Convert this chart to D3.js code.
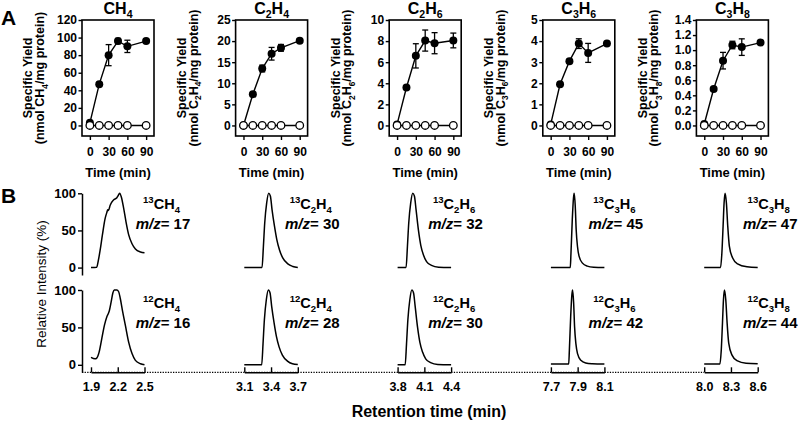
<!DOCTYPE html>
<html><head><meta charset="utf-8">
<script src="https://cdn.jsdelivr.net/npm/d3@7"></script>
<style>
body{margin:0;background:#fff}
text{font-family:"Liberation Sans",Arial,Helvetica,sans-serif;fill:#000}
</style>
</head><body>
<svg id="chart" width="800" height="423"></svg>
<script>
// ---------------- DATA ----------------
// Panel A: specific yield time courses
const timePoints = [0, 15, 30, 45, 60, 90];
const timeTicks = [0, 30, 60, 90];
const gasFormulas = [
  [["C",""],["H",""],["4","sub"]],
  [["C",""],["2","sub"],["H",""],["4","sub"]],
  [["C",""],["2","sub"],["H",""],["6","sub"]],
  [["C",""],["3","sub"],["H",""],["6","sub"]],
  [["C",""],["3","sub"],["H",""],["8","sub"]]
];
const yieldCH4  = [3, 47, 80, 96, 90, 96];
const errCH4    = [0, 1.5, 12, 3, 7, 2];
const yieldC2H4 = [0, 7.4, 13.5, 17.0, 18.4, 20.1];
const errC2H4   = [0, 0.3, 0.8, 1.5, 0.8, 0.4];
const yieldC2H6 = [0.1, 3.6, 6.6, 8.05, 7.8, 8.06];
const errC2H6   = [0, 0.15, 1.15, 1.0, 1.0, 0.7];
const yieldC3H6 = [0.05, 1.95, 3.05, 3.88, 3.44, 3.88];
const errC3H6   = [0, 0.05, 0.08, 0.23, 0.45, 0.05];
const yieldC3H8 = [0.02, 0.484, 0.86, 1.068, 1.04, 1.10];
const errC3H8   = [0, 0.02, 0.11, 0.05, 0.11, 0.02];
const controlYield = [0, 0, 0, 0, 0, 0];
const yMaxima = [120, 25, 10, 5, 1.4];
const yTickSteps = [20, 5, 2, 1, 0.2];

// Panel B: GC-MS chromatograms
const rtDomains = [[1.9,2.5],[3.1,3.7],[3.8,4.4],[7.7,8.1],[8.0,8.6]];
const rtTicks = [[1.9,2.2,2.5],[3.1,3.4,3.7],[3.8,4.1,4.4],[7.7,7.9,8.1],[8.0,8.3,8.6]];
const intensityTicks = [0, 50, 100];
const heavyMz = [17, 30, 32, 45, 47];
const lightMz = [16, 28, 30, 42, 44];

const heavyCH4 = [[1.90,0],[1.964,0.5],[1.983,10],[2.002,23],[2.028,44],[2.058,66],[2.077,74],[2.088,78],[2.096,77],[2.115,84],[2.153,91],[2.19,94],[2.205,97],[2.221,100],[2.24,95],[2.266,80],[2.292,62],[2.323,44],[2.36,32],[2.398,25],[2.455,21],[2.5,20]];
const lightCH4 = [[1.90,10],[1.945,8],[1.964,9],[1.991,17],[2.021,35],[2.051,53],[2.077,64],[2.096,69],[2.105,72],[2.126,84],[2.145,96],[2.16,100],[2.19,100],[2.209,98],[2.228,89],[2.255,71],[2.285,53],[2.323,30],[2.36,15],[2.398,6],[2.455,1.5],[2.5,0]];
const heavyC2H4 = [[3.10,0],[3.299,0],[3.314,28],[3.329,60],[3.351,87],[3.374,100],[3.393,96],[3.411,78],[3.438,56],[3.464,38],[3.494,24],[3.531,13],[3.588,5],[3.644,1.5],[3.70,0]];
const lightC2H4 = [[3.10,0],[3.295,0],[3.31,28],[3.325,60],[3.347,87],[3.37,100],[3.389,96],[3.407,78],[3.434,56],[3.46,38],[3.49,24],[3.527,13],[3.584,5],[3.64,1.5],[3.70,0.5]];
const heavyC2H6 = [[3.80,0],[3.895,0],[3.91,28],[3.925,60],[3.947,87],[3.97,100],[3.989,96],[4.007,78],[4.034,50],[4.06,30],[4.09,17],[4.125,8],[4.18,3],[4.26,0.5],[4.40,0]];
const lightC2H6 = [[3.80,0],[3.885,0],[3.90,28],[3.915,60],[3.937,87],[3.96,100],[3.979,96],[3.997,78],[4.024,50],[4.05,30],[4.08,17],[4.115,8],[4.17,3],[4.25,0.5],[4.40,0]];
const heavyC3H6 = [[7.70,0],[7.845,0],[7.85,19],[7.86,65],[7.869,94],[7.874,100],[7.882,83],[7.889,51],[7.899,28],[7.911,15],[7.936,6],[7.972,2],[8.02,0.5],[8.10,0]];
const lightC3H6 = [[7.70,1],[7.833,1],[7.838,19],[7.848,65],[7.857,94],[7.862,100],[7.87,83],[7.877,51],[7.887,28],[7.899,15],[7.924,6],[7.96,2.5],[8.01,1.5],[8.10,1]];
const heavyC3H8 = [[8.00,0],[8.183,0],[8.198,19],[8.212,56],[8.223,87],[8.234,100],[8.249,87],[8.264,56],[8.282,29],[8.319,13],[8.374,5],[8.48,1],[8.60,0]];
const lightC3H8 = [[8.00,1],[8.176,1],[8.191,19],[8.205,56],[8.216,87],[8.227,100],[8.242,87],[8.257,56],[8.275,29],[8.312,13],[8.367,5.5],[8.47,2],[8.60,1.5]];

// ---------------- CHART ----------------
const yieldSets = [yieldCH4, yieldC2H4, yieldC2H6, yieldC3H6, yieldC3H8];
const errSets = [errCH4, errC2H4, errC2H6, errC3H6, errC3H8];
const heavyTraces = [heavyCH4, heavyC2H4, heavyC2H6, heavyC3H6, heavyC3H8];
const lightTraces = [lightCH4, lightC2H4, lightC2H6, lightC3H6, lightC3H8];

const svg = d3.select("#chart");
const FONT = '"Liberation Sans",Arial,Helvetica,sans-serif';

function rich(sel, parts, size) {
  let shift = 0;
  parts.forEach(([s, k]) => {
    const target = k === "sub" ? 0.28 * size : k === "sup" ? -0.38 * size : 0;
    sel.append("tspan").attr("dy", target - shift)
      .attr("font-size", k ? size * 0.66 : size).text(s);
    shift = target;
  });
}

// Panel letters
svg.append("text").attr("x", 1).attr("y", 25).attr("font-size", 21).attr("font-weight", "bold").text("A");
svg.append("text").attr("x", 1).attr("y", 203).attr("font-size", 21).attr("font-weight", "bold").text("B");

// ----- Panel A -----
const frameW = 72, frameTop = 20, frameBottom = 136;
yieldSets.forEach((vals, i) => {
  const left = 82 + 153.6 * i;
  const x = d3.scaleLinear().domain([-12.6, 102.6]).range([left, left + frameW]);
  const y = d3.scaleLinear().domain([-0.1 * yMaxima[i], yMaxima[i]]).range([frameBottom, frameTop]);
  const g = svg.append("g");
  const ticks = d3.range(0, yMaxima[i] + 1e-9, yTickSteps[i]);
  const fmt = yTickSteps[i] < 1 ? d3.format(".1f") : d3.format("d");

  const ya = g.append("g").attr("transform", `translate(${left},0)`)
    .call(d3.axisLeft(y).tickValues(ticks).tickFormat(fmt).tickSize(3.5).tickPadding(1.5));
  const xa = g.append("g").attr("transform", `translate(0,${frameBottom})`)
    .call(d3.axisBottom(x).tickValues(timeTicks).tickSize(4).tickPadding(7));
  [ya, xa].forEach(a => {
    a.select(".domain").remove();
    a.selectAll("line").attr("stroke", "#000").attr("stroke-width", 1.4);
    a.selectAll("text").attr("font-family", FONT).attr("font-size", 12).attr("font-weight", "bold").attr("fill", "#000");
  });
  g.append("rect").attr("x", left).attr("y", frameTop).attr("width", frameW).attr("height", frameBottom - frameTop)
    .attr("fill", "none").attr("stroke", "#000").attr("stroke-width", 1.6);

  const line = d3.line().x((d, j) => x(timePoints[j])).y(d => y(d));
  g.append("path").attr("d", line(vals)).attr("fill", "none").attr("stroke", "#000").attr("stroke-width", 1.4);
  g.append("path").attr("d", line(controlYield)).attr("fill", "none").attr("stroke", "#000").attr("stroke-width", 1.4);

  // error bars
  vals.forEach((v, j) => {
    const e = errSets[i][j];
    if (e <= 0) return;
    const cx = x(timePoints[j]);
    g.append("line").attr("x1", cx).attr("x2", cx).attr("y1", y(v - e)).attr("y2", y(v + e)).attr("stroke", "#000").attr("stroke-width", 1.3);
    [v - e, v + e].forEach(yy => g.append("line").attr("x1", cx - 3).attr("x2", cx + 3).attr("y1", y(yy)).attr("y2", y(yy)).attr("stroke", "#000").attr("stroke-width", 1.3));
  });
  vals.forEach((v, j) => {
    g.append("circle").attr("cx", x(timePoints[j])).attr("cy", y(v)).attr("r", 4).attr("fill", "#000");
  });
  controlYield.forEach((v, j) => {
    g.append("circle").attr("cx", x(timePoints[j])).attr("cy", y(v)).attr("r", 3.8).attr("fill", "#fff").attr("stroke", "#000").attr("stroke-width", 1.3);
  });

  // titles
  const cx = left + frameW / 2;
  rich(g.append("text").attr("x", cx).attr("y", 14).attr("text-anchor", "middle").attr("font-weight", "bold"), gasFormulas[i], 16);
  g.append("text").attr("x", cx).attr("y", 177).attr("text-anchor", "middle").attr("font-weight", "bold").attr("font-size", 13).text("Time (min)");
  g.append("text").attr("transform", `translate(${left - 54},78) rotate(-90)`).attr("text-anchor", "middle").attr("dy", "0.35em")
    .attr("font-weight", "bold").attr("font-size", 12.5).text("Specific Yield");
  rich(g.append("text").attr("transform", `translate(${left - 38},78) rotate(-90)`).attr("text-anchor", "middle").attr("dy", "0.35em").attr("font-weight", "bold"),
    [["(nmol ", ""], ...gasFormulas[i], ["/mg protein)", ""]], 12.5);
});

// ----- Panel B -----
const yUpper = d3.scaleLinear().domain([-10, 100]).range([275, 193.3]);
const yLower = d3.scaleLinear().domain([-10, 100]).range([372.3, 290]);
const axisY = 372.3, yAxisX = 82;
const segW = 53.5;
const labelOffsets = [72, 68, 58, 65, 66];

// dotted baseline
svg.append("line").attr("x1", yAxisX).attr("x2", 91 + 153.3 * 4).attr("y1", axisY).attr("y2", axisY)
  .attr("stroke", "#000").attr("stroke-width", 1.3).attr("stroke-dasharray", "1.3,1.3");

[yUpper, yLower].forEach(ys => {
  const a = svg.append("g").attr("transform", `translate(${yAxisX},0)`)
    .call(d3.axisLeft(ys).tickValues(intensityTicks).tickSizeInner(4).tickSizeOuter(0).tickPadding(2));
  a.select(".domain").attr("stroke", "#000").attr("stroke-width", 1.5);
  a.selectAll("line").attr("stroke", "#000").attr("stroke-width", 1.4);
  a.selectAll("text").attr("font-family", FONT).attr("font-size", 13).attr("font-weight", "bold").attr("fill", "#000");
});

rtDomains.forEach((dom, i) => {
  const start = 91 + 153.3 * i;
  const x = d3.scaleLinear().domain(dom).range([start, start + segW]);
  const a = svg.append("g").attr("transform", `translate(0,${axisY})`)
    .call(d3.axisBottom(x).tickValues(rtTicks[i]).tickFormat(d3.format(".1f")).tickSizeInner(-5).tickSizeOuter(0).tickPadding(10));
  a.select(".domain").attr("stroke", "#000").attr("stroke-width", 1.5);
  a.selectAll("line").attr("stroke", "#000").attr("stroke-width", 1.4);
  a.selectAll("text").attr("font-family", FONT).attr("font-size", 12.5).attr("font-weight", "bold").attr("fill", "#000");

  [[heavyTraces[i], yUpper], [lightTraces[i], yLower]].forEach(([tr, ys]) => {
    const ln = d3.line().x(d => x(d[0])).y(d => ys(d[1])).curve(d3.curveMonotoneX);
    svg.append("path").attr("d", ln(tr)).attr("fill", "none").attr("stroke", "#000").attr("stroke-width", 1.5).attr("stroke-linejoin", "round");
  });

  const lx = start + labelOffsets[i];
  [["13", heavyMz[i], 209, 229], ["12", lightMz[i], 307.5, 328]].forEach(([iso, mz, y1, y2]) => {
    rich(svg.append("text").attr("x", lx - 1.5).attr("y", y1).attr("text-anchor", "middle").attr("font-weight", "bold"),
      [[iso, "sup"], ...gasFormulas[i]], 14.5);
    const t = svg.append("text").attr("x", lx).attr("y", y2).attr("text-anchor", "middle").attr("font-weight", "bold").attr("font-size", 15);
    t.append("tspan").attr("font-style", "italic").text("m/z");
    t.append("tspan").text("= " + mz);
  });
});

svg.append("text").attr("x", 429).attr("y", 417).attr("text-anchor", "middle").attr("font-weight", "bold").attr("font-size", 16).text("Retention time (min)");
svg.append("text").attr("transform", "translate(41,284) rotate(-90)").attr("text-anchor", "middle").attr("dy", "0.35em")
  .attr("font-size", 13.5).text("Relative Intensity (%)");
</script>
</body></html>
